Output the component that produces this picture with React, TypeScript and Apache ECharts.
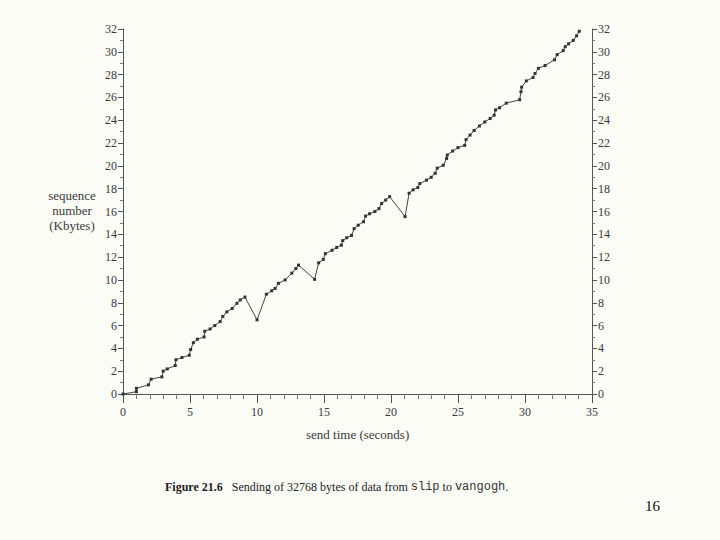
import React, { useEffect, useRef } from "react";
import * as echarts from "echarts";

const sendTime = [
  0, 1.0, 1.0, 1.9, 2.1, 2.9, 3.0, 3.3, 3.9, 3.95, 4.4, 4.95, 5.05, 5.25, 5.55, 6.05, 6.1, 6.5, 6.85, 7.25,
  7.45, 7.75, 8.15, 8.5, 8.75, 9.1, 10.0, 10.7, 11.1, 11.35, 11.6, 12.1, 12.6, 12.9, 13.1, 14.3, 14.6, 14.95,
  15.1, 15.6, 15.95, 16.3, 16.4, 16.7, 17.05, 17.25, 17.55, 17.95, 18.1, 18.4, 18.8, 19.1, 19.3, 19.6, 19.9,
  21.05, 21.35, 21.65, 22.0, 22.15, 22.65, 23.0, 23.3, 23.45, 23.9, 24.15, 24.2, 24.6, 25.0, 25.5, 25.6, 25.9,
  26.2, 26.6, 27.0, 27.4, 27.7, 27.8, 28.1, 28.6, 29.6, 29.7, 29.75, 30.1, 30.6, 30.75, 31.0, 31.5, 32.2, 32.4,
  32.85, 33.0, 33.25, 33.6, 33.85, 34.05,
];

const seqKbytes = [
  0, 0.2, 0.5, 0.8, 1.3, 1.5, 2.0, 2.2, 2.5, 3.0, 3.2, 3.4, 3.9, 4.5, 4.8, 5.0, 5.5, 5.7, 6.0, 6.35,
  6.8, 7.2, 7.5, 7.95, 8.25, 8.5, 6.5, 8.75, 9.05, 9.25, 9.7, 10.0, 10.6, 11.0, 11.3, 10.05, 11.5, 11.8,
  12.3, 12.6, 12.85, 13.05, 13.45, 13.7, 13.9, 14.5, 14.8, 15.1, 15.6, 15.8, 16.0, 16.25, 16.7, 17.0, 17.3,
  15.55, 17.6, 17.9, 18.1, 18.45, 18.75, 19.0, 19.35, 19.8, 20.05, 20.65, 20.95, 21.3, 21.6, 21.8, 22.3, 22.7,
  23.1, 23.5, 23.85, 24.15, 24.45, 24.9, 25.1, 25.5, 25.8, 26.5, 26.9, 27.45, 27.75, 28.1, 28.55, 28.8, 29.3, 29.75,
  30.1, 30.45, 30.7, 31.0, 31.4, 31.8,
];

const xAxisTitle = "send time (seconds)";
const yAxisTitle = "sequence\nnumber\n(Kbytes)";
const captionLabel = "Figure 21.6";
const pageNumber = "16";

const SERIF = "'Liberation Serif', 'DejaVu Serif', serif";
const INK = "#3a3a3a";

export default function App() {
  const ref = useRef<HTMLDivElement>(null);

  useEffect(() => {
    if (!ref.current) return;
    const chart = echarts.init(ref.current, null, { renderer: "svg" });
    const points = sendTime.map((t, i) => [t, seqKbytes[i]]);

    const yAxisCommon = {
      type: "value",
      min: 0,
      max: 32,
      interval: 2,
      axisLine: { show: true, lineStyle: { color: "#555", width: 1 } },
      axisTick: { show: true, inside: false, length: 5, lineStyle: { color: "#555" } },
      minorTick: { show: true, splitNumber: 2, length: 3, lineStyle: { color: "#777" } },
      splitLine: { show: false },
      axisLabel: { color: INK, fontFamily: SERIF, fontSize: 12, margin: 6 },
    };

    chart.setOption({
      animation: false,
      backgroundColor: "#fcfcf6",
      grid: { left: 123, right: 128, top: 29, bottom: 146, containLabel: false },
      xAxis: {
        type: "value",
        min: 0,
        max: 35,
        interval: 5,
        axisLine: { show: true, onZero: false, lineStyle: { color: "#555", width: 1 } },
        axisTick: { show: true, inside: false, length: 9, lineStyle: { color: "#555" } },
        minorTick: { show: true, splitNumber: 5, length: 5, lineStyle: { color: "#777" } },
        splitLine: { show: false },
        axisLabel: { color: INK, fontFamily: SERIF, fontSize: 12, margin: 12 },
      },
      yAxis: [
        { ...yAxisCommon, position: "left" },
        { ...yAxisCommon, position: "right" },
      ],
      series: [
        {
          type: "line",
          data: points,
          yAxisIndex: 0,
          symbol: "rect",
          symbolSize: 3,
          showSymbol: true,
          lineStyle: { color: "#444", width: 1 },
          itemStyle: { color: "#333" },
        },
      ],
      graphic: [
        {
          type: "text",
          left: 306,
          top: 428,
          style: { text: xAxisTitle, fill: INK, font: `13px ${SERIF}` },
        },
        {
          type: "text",
          x: 72,
          y: 188,
          style: {
            text: yAxisTitle,
            fill: INK,
            font: `13px ${SERIF}`,
            align: "center",
            lineHeight: 15,
          },
        },
        {
          type: "text",
          x: 165,
          y: 481,
          style: {
            text: `{b|${captionLabel}}{n|   Sending of 32768 bytes of data from }{m|slip}{n| to }{m|vangogh}{n|.}`,
            rich: {
              b: { fontFamily: SERIF, fontWeight: "bold", fontSize: 12, fill: "#222" },
              n: { fontFamily: SERIF, fontSize: 12, fill: "#222" },
              m: { fontFamily: "'Liberation Mono', 'DejaVu Sans Mono', monospace", fontSize: 12, fill: "#333" },
            },
          },
        },
        {
          type: "text",
          x: 645,
          y: 498,
          style: { text: pageNumber, fill: "#111", font: `15px ${SERIF}` },
        },
      ],
    });

    return () => chart.dispose();
  }, []);

  return (
    <div
      ref={ref}
      style={{ position: "fixed", left: 0, top: 0, width: 720, height: 540 }}
    />
  );
}
